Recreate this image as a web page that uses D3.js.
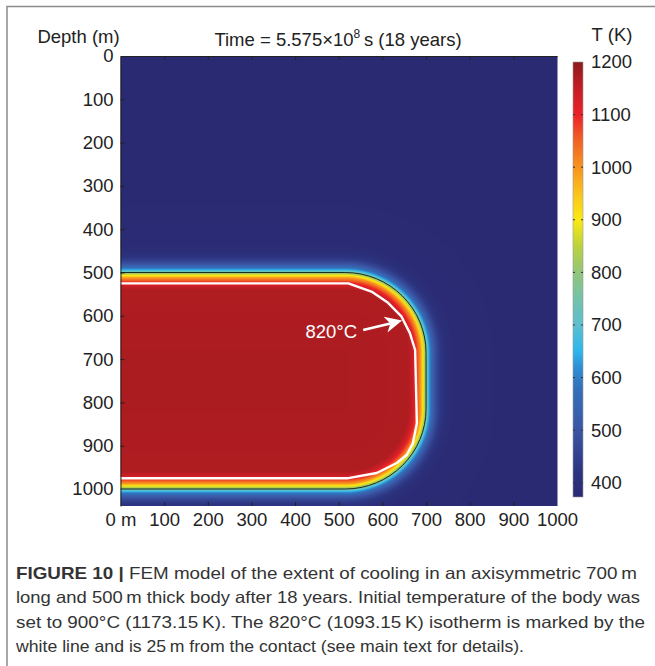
<!DOCTYPE html>
<html>
<head>
<meta charset="utf-8">
<script src="https://cdn.jsdelivr.net/npm/d3@7"></script>
<style>
  body { margin: 0; background: #fff; }
  svg { display: block; font-family: "Liberation Sans", Arial, sans-serif; }
</style>
</head>
<body>
<svg></svg>
<script>
// ---- data ----
const xTicks = [0, 100, 200, 300, 400, 500, 600, 700, 800, 900, 1000];
const xTickLabels = ['0 m', '100', '200', '300', '400', '500', '600', '700', '800', '900', '1000'];
const yTicks = [0, 100, 200, 300, 400, 500, 600, 700, 800, 900, 1000];
const cbTicks = [400, 500, 600, 700, 800, 900, 1000, 1100, 1200];

// temperature (K) against distance from the contact (m, + outside the body)
const profileDist = [-200, -40, -30, -23, -17, -12, -8, -4, 0, 4, 8, 14, 22, 32, 45, 62, 200];
const profileTemp = [1173, 1168, 1140, 1093, 1040, 990, 920, 850, 780, 690, 615, 545, 480, 430, 397, 380, 373];

// colour map of the T (K) bar
const cmapTemp = [373, 420, 500, 580, 620, 650, 700, 750, 800, 850, 900, 950, 1000, 1050, 1100, 1150, 1200];
const cmapColor = ['#2a2a72', '#2c3480', '#3a55a4', '#3470ba', '#2f8fd4', '#2cb6ec', '#5cbfcf', '#74c2aa',
  '#92c67a', '#bcd23e', '#fbe912', '#fbc31b', '#f7941e', '#f16223', '#ec2227', '#c41e24', '#8d1a1d'];

// body outline (m): axisymmetric, radius 700, depth 500-1000
const bodyLength = 700, bodyTop = 500, bodyBottom = 1000, bodyCorner = 185;

// 820 C isotherm (white line)
const isoX = [0, 522, 575, 613, 644, 663, 675, 679, 670, 656, 633, 587, 522, 0];
const isoDepth = [525, 525, 544, 570, 602, 640, 679, 848, 894, 921, 940, 963, 975, 975];

const captionLines = [
  'FEM model of the extent of cooling in an axisymmetric 700\u2009m',
  'long and 500\u2009m thick body after 18 years. Initial temperature of the body was',
  'set to 900\u00b0C (1173.15\u2009K). The 820\u00b0C (1093.15\u2009K) isotherm is marked by the',
  'white line and is 25\u2009m from the contact (see main text for details).'
];

// ---- layout ----
const size = {w: 655, h: 666};
const plot = {l: 120.5, r: 557, t: 56, b: 506};
const fs = 18.5;
const svg = d3.select('svg').attr('width', size.w).attr('height', size.h);

const x = d3.scaleLinear().domain([0, 1000]).range([plot.l, plot.r]);
const y = d3.scaleLinear().domain([0, 1000]).range([56, 489]);

const tOfDist = d3.scaleLinear().domain(profileDist).range(profileTemp).clamp(true);
const color = d3.scaleLinear().domain(cmapTemp).range(cmapColor).clamp(true);

// frame lines of the figure panel
svg.append('path')
  .attr('d', `M7,${size.h} V6.5 H${size.w}`)
  .attr('fill', 'none')
  .attr('stroke', '#8c8c8c')
  .attr('stroke-width', 1.5);

// signed distance to the rounded body outline
function contactDist(mx, mz) {
  const cz = (bodyTop + bodyBottom) / 2;
  const hz = (bodyBottom - bodyTop) / 2;
  const qx = Math.abs(mx) - (bodyLength - bodyCorner);
  const qz = Math.abs(mz - cz) - (hz - bodyCorner);
  return Math.hypot(Math.max(qx, 0), Math.max(qz, 0)) + Math.min(Math.max(qx, qz), 0) - bodyCorner;
}

// temperature field raster
const W = Math.round(plot.r - plot.l), H = Math.round(plot.b - plot.t);
const canvas = document.createElement('canvas');
canvas.width = W; canvas.height = H;
const ctx = canvas.getContext('2d');
const img = ctx.createImageData(W, H);
for (let j = 0; j < H; j++) {
  const mz = y.invert(plot.t + j + 0.5);
  for (let i = 0; i < W; i++) {
    const mx = x.invert(plot.l + i + 0.5);
    const c = d3.rgb(color(tOfDist(contactDist(mx, mz))));
    const k = (j * W + i) * 4;
    img.data[k] = c.r; img.data[k + 1] = c.g; img.data[k + 2] = c.b; img.data[k + 3] = 255;
  }
}
ctx.putImageData(img, 0, 0);

const plotG = svg.append('g').classed('plot', true);
plotG.append('image')
  .attr('x', plot.l).attr('y', plot.t)
  .attr('width', W).attr('height', H)
  .attr('preserveAspectRatio', 'none')
  .attr('href', canvas.toDataURL());

// contact (black line)
const rx = x(bodyCorner) - x(0), ry = y(bodyCorner) - y(0);
const contact = d3.path();
contact.moveTo(x(0), y(bodyTop));
contact.lineTo(x(bodyLength - bodyCorner), y(bodyTop));
plotG.append('path')
  .attr('d', contact.toString() +
    `A${rx},${ry} 0 0 1 ${x(bodyLength)},${y(bodyTop + bodyCorner)}` +
    `L${x(bodyLength)},${y(bodyBottom - bodyCorner)}` +
    `A${rx},${ry} 0 0 1 ${x(bodyLength - bodyCorner)},${y(bodyBottom)}` +
    `L${x(0)},${y(bodyBottom)}`)
  .attr('fill', 'none')
  .attr('stroke', '#1b2a22')
  .attr('stroke-width', 1);

// 820 C isotherm
const iso = d3.zip(isoX, isoDepth);
plotG.append('path')
  .attr('d', d3.line().x(d => x(d[0])).y(d => y(d[1]))(iso))
  .attr('fill', 'none')
  .attr('stroke', '#fff')
  .attr('stroke-width', 2.4)
  .attr('stroke-linejoin', 'round');

// annotation arrow
const tail = [x(556), y(633)], tip = [x(645), y(611)];
const len = Math.hypot(tip[0] - tail[0], tip[1] - tail[1]);
const u = [(tip[0] - tail[0]) / len, (tip[1] - tail[1]) / len];
const n = [-u[1], u[0]];
const headL = 17, headW = 8, notch = 12;
plotG.append('line')
  .attr('x1', tail[0]).attr('y1', tail[1])
  .attr('x2', tip[0] - u[0] * notch).attr('y2', tip[1] - u[1] * notch)
  .attr('stroke', '#fff').attr('stroke-width', 2.6);
plotG.append('path')
  .attr('d', 'M' + [
    tip,
    [tip[0] - u[0] * headL + n[0] * headW, tip[1] - u[1] * headL + n[1] * headW],
    [tip[0] - u[0] * notch, tip[1] - u[1] * notch],
    [tip[0] - u[0] * headL - n[0] * headW, tip[1] - u[1] * headL - n[1] * headW]
  ].map(p => p.join(',')).join('L') + 'Z')
  .attr('fill', '#fff');
plotG.append('text')
  .attr('x', x(542)).attr('y', y(651))
  .attr('text-anchor', 'end')
  .attr('fill', '#fff')
  .attr('font-size', fs)
  .text('820\u00b0C');

// axes
const axisG = svg.append('g').classed('axes', true);
const yDepthMax = y.invert(plot.b);
const yFull = d3.scaleLinear().domain([0, yDepthMax]).range([plot.t, plot.b]);

axisG.append('g')
  .attr('transform', `translate(${plot.l},0)`)
  .call(d3.axisLeft(yFull).tickValues(yTicks).tickFormat(d => String(d))
    .tickSize(-4).tickSizeOuter(0).tickPadding(7))
  .call(g => g.selectAll('text').attr('font-size', fs).attr('fill', '#222'));
axisG.append('g')
  .attr('transform', `translate(0,${plot.b})`)
  .call(d3.axisBottom(x).tickValues(xTicks).tickFormat((d, i) => xTickLabels[i])
    .tickSize(-4).tickSizeOuter(0).tickPadding(7))
  .call(g => g.select('.domain').remove())
  .call(g => g.selectAll('text').attr('font-size', fs).attr('fill', '#222'));
axisG.append('g')
  .attr('transform', `translate(0,${plot.t})`)
  .call(d3.axisTop(x).tickValues(xTicks).tickFormat('').tickSize(-4).tickSizeOuter(0));
axisG.selectAll('.tick line').attr('stroke', '#222');
axisG.selectAll('.domain').attr('stroke', '#222');
axisG.selectAll('.tick').filter(d => d === 0 || d === 1000).select('line').remove();

// titles
svg.append('text')
  .attr('x', 78.5).attr('y', 43)
  .attr('text-anchor', 'middle')
  .attr('font-size', fs).attr('fill', '#222')
  .text('Depth (m)');
const title = svg.append('text')
  .attr('x', 338).attr('y', 46)
  .attr('text-anchor', 'middle')
  .attr('font-size', fs).attr('fill', '#222');
title.append('tspan').text('Time = 5.575\u00d710');
title.append('tspan').attr('dy', -8).attr('font-size', 12).text('8');
title.append('tspan').attr('dy', 8).text('\u2009s (18 years)');

// colour bar
const cb = {x: 573, w: 10, t: 62, b: 497};
const cbScale = d3.scaleLinear().domain([373, 1200]).range([cb.b, cb.t]);
const defs = svg.append('defs');
const grad = defs.append('linearGradient')
  .attr('id', 'cbgrad')
  .attr('x1', 0).attr('y1', 1).attr('x2', 0).attr('y2', 0);
grad.selectAll('stop')
  .data(cmapTemp)
  .enter()
  .append('stop')
  .attr('offset', d => (d - 373) / (1200 - 373))
  .attr('stop-color', (d, i) => cmapColor[i]);
svg.append('rect')
  .attr('x', cb.x).attr('y', cb.t)
  .attr('width', cb.w).attr('height', cb.b - cb.t)
  .attr('fill', 'url(#cbgrad)')
  .attr('stroke', '#9a9a9a').attr('stroke-width', 0.6);
const cbG = svg.append('g').classed('colorbar', true);
cbG.selectAll('line.l')
  .data(cbTicks.filter(d => d < 1200))
  .enter()
  .append('line')
  .attr('x1', cb.x).attr('x2', cb.x + 2)
  .attr('y1', d => cbScale(d)).attr('y2', d => cbScale(d))
  .attr('stroke', '#333');
cbG.selectAll('line.r')
  .data(cbTicks.filter(d => d < 1200))
  .enter()
  .append('line')
  .attr('x1', cb.x + cb.w - 2).attr('x2', cb.x + cb.w)
  .attr('y1', d => cbScale(d)).attr('y2', d => cbScale(d))
  .attr('stroke', '#333');
cbG.selectAll('text')
  .data(cbTicks)
  .enter()
  .append('text')
  .attr('x', 591)
  .attr('y', d => cbScale(d))
  .attr('dy', '0.35em')
  .attr('font-size', fs).attr('fill', '#222')
  .text(d => d);
svg.append('text')
  .attr('x', 612).attr('y', 41)
  .attr('text-anchor', 'middle')
  .attr('font-size', fs).attr('fill', '#222')
  .text('T (K)');

// caption
const capBase = [579, 603, 628, 652];
const capEnd = [637, 640, 645, 524];
const cap = svg.append('g').classed('caption', true)
  .attr('font-size', 16.5).attr('fill', '#333');
const first = cap.append('text').attr('x', 16).attr('y', capBase[0])
  .attr('textLength', capEnd[0] - 16).attr('lengthAdjust', 'spacingAndGlyphs');
first.append('tspan').attr('font-weight', 'bold').text('FIGURE 10 | ');
first.append('tspan').text(captionLines[0]);
captionLines.slice(1).forEach((line, i) => {
  cap.append('text')
    .attr('x', 16).attr('y', capBase[i + 1])
    .attr('textLength', capEnd[i + 1] - 16).attr('lengthAdjust', 'spacingAndGlyphs')
    .text(line);
});
</script>
</body>
</html>
